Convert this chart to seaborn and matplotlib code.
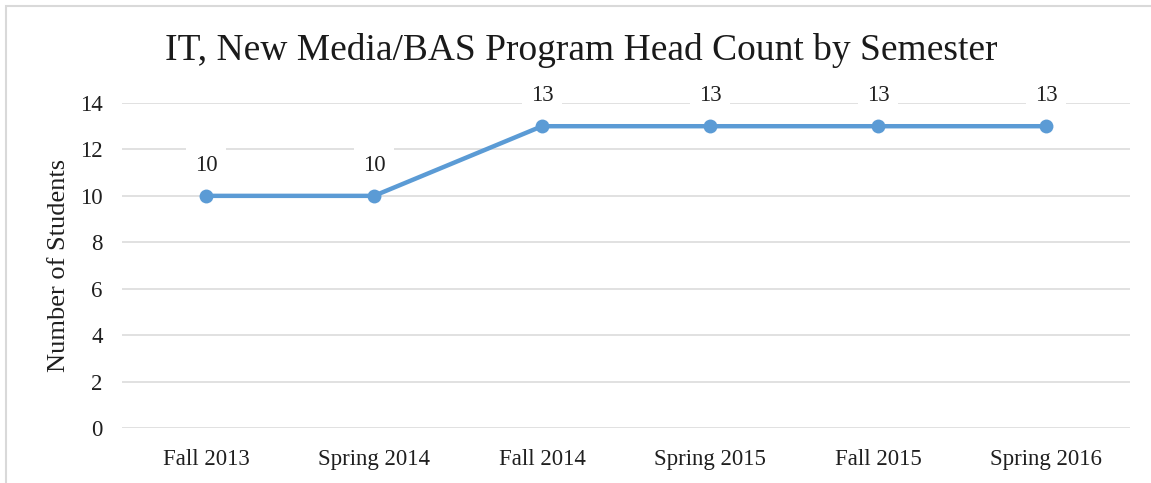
import matplotlib
matplotlib.use("Agg")
import matplotlib.pyplot as plt
import seaborn as sns
from matplotlib.patches import Rectangle

semesters = ["Fall 2013", "Spring 2014", "Fall 2014", "Spring 2015", "Fall 2015", "Spring 2016"]
head_count = [10, 10, 13, 13, 13, 13]
y_ticks = [0, 2, 4, 6, 8, 10, 12, 14]

sns.set_theme(style="white")
plt.rcParams["font.family"] = ["Liberation Serif", "DejaVu Serif"]

fig = plt.figure(figsize=(11.51, 4.83), dpi=100)
ax = fig.add_axes([122 / 1151, 1 - 428 / 483, (1130 - 122) / 1151, (428 - 103) / 483])

for t in y_ticks:
    ax.axhline(t, color="#D9D9D9", lw=1.1, zorder=0)

sns.lineplot(x=semesters, y=head_count, ax=ax, color="#5B9BD5", lw=3.2,
             marker="o", markersize=10, markeredgewidth=0, sort=False, zorder=3)

for i, v in enumerate(head_count):
    ax.annotate(str(v), (i, v), xytext=(0, 22), textcoords="offset points",
                ha="center", va="center", fontsize=16.5, color="#1f1f1f",
                bbox=dict(boxstyle="square,pad=0.4", fc="white", ec="none"), zorder=4)

ax.set_xlim(-0.5, len(semesters) - 0.5)
ax.set_ylim(0, 14)
ax.set_yticks(y_ticks)
ax.tick_params(axis="both", labelsize=16.5, colors="#1f1f1f", length=0)
ax.tick_params(axis="x", pad=15)
ax.tick_params(axis="y", pad=14)
for s in ax.spines.values():
    s.set_visible(False)
ax.set_xlabel("")
ax.set_ylabel("Number of Students", fontsize=19, color="#1f1f1f", labelpad=7)

fig.text(581 / 1151, 1 - 51 / 483, "IT, New Media/BAS Program Head Count by Semester",
         ha="center", va="center", fontsize=27, color="#1a1a1a")

fig.patches.append(Rectangle((6 / 1151, -0.1), 1.2, 1 - 6 / 483 + 0.1, transform=fig.transFigure,
                             fill=False, ec="#D9D9D9", lw=1.5))

fig.savefig("out.png", dpi=100)
